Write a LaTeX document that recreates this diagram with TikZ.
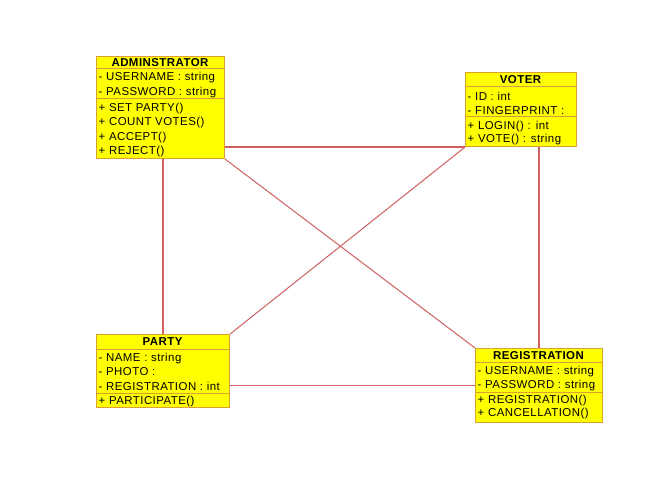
\documentclass[tikz,border=0pt]{standalone}
\usepackage{fontspec}
\setmainfont{Liberation Sans}[LetterSpace=4]
\usetikzlibrary{calc}
\definecolor{boxfill}{HTML}{FFFF00}
\definecolor{boxline}{HTML}{DDA030}
\definecolor{wirec}{HTML}{D06060}
\tikzset{
  classbox/.style={draw=boxline, fill=boxfill, line width=1.1bp, rectangle, inner sep=0pt, anchor=north west},
  divider/.style={draw=boxline, line width=1bp},
  member/.style={anchor=base west, inner sep=0pt, font=\fontsize{11.5}{13}\selectfont},
  ctitle/.style={anchor=base, inner sep=0pt, font=\fontsize{11.5}{13}\selectfont\bfseries},
  wire/.style={draw=wirec, line width=1bp},
  straightwire/.style={draw=wirec, line width=1.2bp},
}
\begin{document}
\begin{tikzpicture}[x=1bp,y=-1bp]
\useasboundingbox[fill=white] (0,0) rectangle (645,490);
% ADMINSTRATOR
\node[classbox, minimum width=128bp, minimum height=102bp] (admin) at (96,56) {};
% VOTER
\node[classbox, minimum width=111bp, minimum height=74bp] (voter) at (465,72) {};
% PARTY
\node[classbox, minimum width=133bp, minimum height=73bp] (party) at (96,334) {};
% REGISTRATION
\node[classbox, minimum width=127bp, minimum height=74bp] (reg) at (475,348) {};

\draw[straightwire] (admin.east |- voter.south) -- (voter.south west);
\draw[wire] (admin.south east) -- (reg.north west);
\draw[wire] (voter.south west) -- (party.north east);
\draw[straightwire] (party.north |- admin.south) -- (party.north);
\draw[straightwire] (reg.north |- voter.south) -- (reg.north);
\draw[straightwire] (party.east |- reg.west) -- (reg.west);

% ADMINSTRATOR compartments
\draw[divider] (96,69) -- (224,69);
\draw[divider] (96,99) -- (224,99);
\node[ctitle] (adminT) at (160,66.6) {ADMINSTRATOR};
\node[member] (adminA1) at (98.5,81) {- USERNAME : string};
\node[member] (adminA2) at (98.5,96) {- PASSWORD : string};
\node[member] (adminO1) at (98.5,112) {+ SET PARTY()};
\node[member] (adminO2) at (98.5,125.8) {+ COUNT VOTES()};
\node[member] (adminO3) at (98.5,140.3) {+ ACCEPT()};
\node[member] (adminO4) at (98.5,154.3) {+ REJECT()};

% VOTER compartments
\draw[divider] (465,87) -- (576,87);
\draw[divider] (465,117) -- (576,117);
\node[ctitle] (voterT) at (520.5,84) {VOTER};
\node[member] (voterA1) at (467.5,101) {- ID : int};
\node[member] (voterA2) at (467.5,114.5) {- FINGERPRINT :};
\node[member] (voterO1) at (467.5,129.3) {+ LOGIN() : int};
\node[member] (voterO2) at (467.5,142.8) {+ VOTE() : string};

% PARTY compartments
\draw[divider] (96,349) -- (229,349);
\draw[divider] (96,393) -- (229,393);
\node[ctitle] (partyT) at (162.5,345.5) {PARTY};
\node[member] (partyA1) at (98.5,361.5) {- NAME : string};
\node[member] (partyA2) at (98.5,375.5) {- PHOTO :};
\node[member] (partyA3) at (98.5,390.3) {- REGISTRATION : int};
\node[member] (partyO1) at (98.5,404.3) {+ PARTICIPATE()};

% REGISTRATION compartments
\draw[divider] (475,362) -- (602,362);
\draw[divider] (475,392) -- (602,392);
\node[ctitle] (regT) at (538.5,359.3) {REGISTRATION};
\node[member] (regA1) at (477.5,374.3) {- USERNAME : string};
\node[member] (regA2) at (477.5,388.5) {- PASSWORD : string};
\node[member] (regO1) at (477.5,403.3) {+ REGISTRATION()};
\node[member] (regO2) at (477.5,416.5) {+ CANCELLATION()};
\end{tikzpicture}
\end{document}
